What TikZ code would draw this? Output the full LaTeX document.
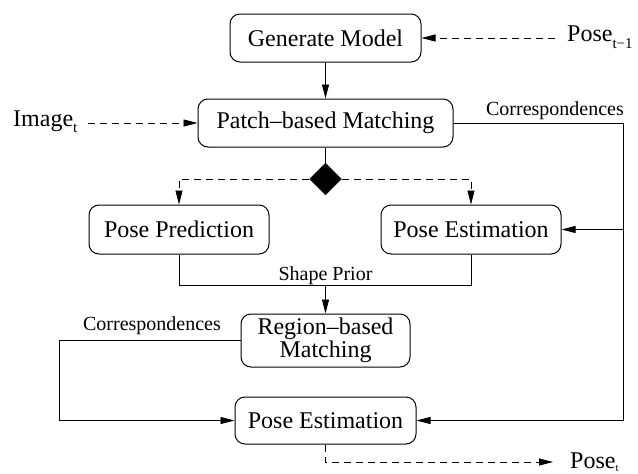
\documentclass[tikz,border=0pt]{standalone}
\usepackage{fontspec}
\setmainfont{Liberation Serif}
\usetikzlibrary{arrows.meta,shapes.geometric}

% lowered subscript used in the input/output labels
\newcommand{\lowsub}[2][6pt]{\raisebox{-#1}{\fontsize{15}{15}\selectfont #2}}

\tikzset{
  stagebox/.style={draw, line width=1pt, rounded corners=10pt, inner sep=0pt,
    align=center, font=\rmfamily\fontsize{24}{21}\selectfont},
  wire/.style={line width=0.8pt},
  tipped/.style={-{Triangle[length=14pt,width=7pt]}},
  dashwire/.style={wire, dash pattern=on 7pt off 5pt},
  iolabel/.style={inner ysep=0pt, font=\rmfamily\fontsize{24}{26}\selectfont},
  smalllabel/.style={inner sep=0pt, font=\rmfamily\fontsize{20}{22}\selectfont},
}

\begin{document}
\begin{tikzpicture}[x=1pt,y=-1pt]
\useasboundingbox (0,0) rectangle (638,474);

% processing stages
\node[stagebox, minimum width=191pt, minimum height=48pt] (gen)   at (325.5,38)    {Generate Model};
\node[stagebox, minimum width=255pt, minimum height=48pt] (patch) at (325.5,123)   {Patch--based Matching};
\node[draw, fill=black, diamond, inner sep=0pt, minimum width=32pt, minimum height=32pt] (dia) at (325.5,179) {};
\node[stagebox, minimum width=180pt, minimum height=49pt] (pred)  at (179,229.5)   {Pose Prediction};
\node[stagebox, minimum width=180pt, minimum height=49pt] (est1)  at (471,229.5)   {Pose Estimation};
\node[stagebox, minimum width=169pt, minimum height=53pt] (reg)   at (325.5,340.5) {Region--based\\Matching};
\node[stagebox, minimum width=181pt, minimum height=47pt] (est2)  at (325.5,420.5) {Pose Estimation};

% inputs and output
\node[iolabel, inner xsep=10pt, anchor=base west] (img) at (3,126)   {Image\lowsub{t}};
\node[iolabel, inner xsep=12pt, anchor=base west] (pm1) at (555,41)  {Pose\lowsub[7pt]{t−1}};
\node[iolabel, inner xsep=17pt, anchor=base west] (pt)  at (553,468) {Pose\lowsub[3pt]{\fontsize{11}{11}\selectfont t}};

% edge labels
\node[smalllabel, anchor=base] (lcorr1) at (555,115)   {Correspondences};
\node[smalllabel, anchor=base] (lcorr2) at (152,330)   {Correspondences};
\node[smalllabel, anchor=base] (lshape) at (325.5,280) {Shape Prior};

% dashed inputs
\draw[dashwire, tipped] (pm1.west |- gen.east) -- (gen.east);
\draw[dashwire, tipped] (img.east |- patch.west) -- (patch.west);

% main flow
\draw[wire, tipped] (gen) -- (patch);
\draw[wire] (patch.south) -- (dia.north);
\draw[dashwire, tipped] (dia.west) -| (pred.north);
\draw[dashwire, tipped] (dia.east) -| (est1.north);

% shape prior merge
\draw[wire] (pred.south) -- ++(0,31) coordinate (jl) -| (est1.south);
\draw[wire, tipped] (jl -| reg.north) -- (reg.north);

% correspondences from patch matching
\draw[wire] (patch.east) -- ++(170,0) coordinate (rail);
\draw[wire, tipped] (rail) |- (est2.east);
\draw[wire, tipped] (rail |- est1.east) -- (est1.east);

% correspondences from region matching
\draw[wire, tipped] (reg.west) -- ++(-181,0) |- (est2.west);

% output pose
\draw[dashwire, tipped] (est2.south) |- (pt.west |- 0,462);
\end{tikzpicture}
\end{document}
